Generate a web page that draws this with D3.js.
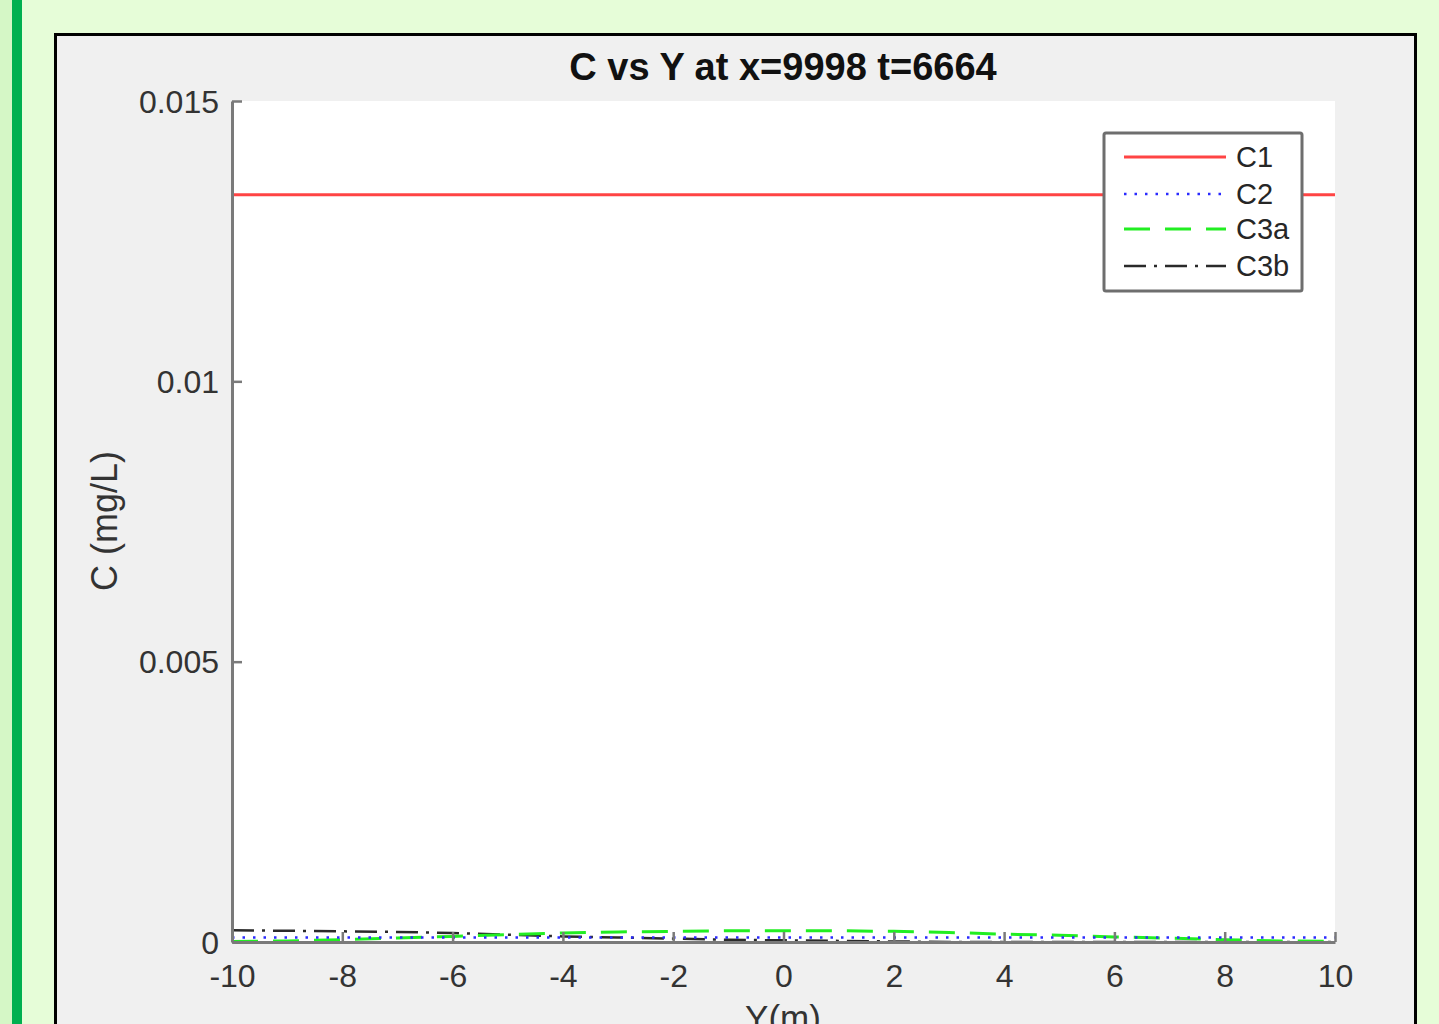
<!DOCTYPE html>
<html>
<head>
<meta charset="utf-8">
<script src="https://cdn.jsdelivr.net/npm/d3@7"></script>
<style>
  html, body { margin: 0; padding: 0; background: #e6fdd8; }
  svg { display: block; }
  text { font-family: "Liberation Sans", Arial, sans-serif; }
</style>
</head>
<body>
<svg id="chart"></svg>
<script>
// Data.
const yPositions = [-10, -9, -8, -7, -6, -5, -4, -3, -2, -1, 0, 1, 2, 3, 4, 5, 6, 7, 8, 9, 10];
const c1 = [0.01333, 0.01333, 0.01333, 0.01333, 0.01333, 0.01333, 0.01333, 0.01333, 0.01333, 0.01333, 0.01333,
  0.01333, 0.01333, 0.01333, 0.01333, 0.01333, 0.01333, 0.01333, 0.01333, 0.01333, 0.01333];
const c2 = [0.00008, 0.00008, 0.00008, 0.00008, 0.00008, 0.00008, 0.00008, 0.00008, 0.00008, 0.00008, 0.00008,
  0.00008, 0.00008, 0.00008, 0.00008, 0.00008, 0.00008, 0.00008, 0.00008, 0.00008, 0.00008];
const c3a = [0.00001, 0.00002, 0.00004, 0.00007, 0.0001, 0.00013, 0.00016, 0.00018, 0.00019, 0.0002, 0.0002,
  0.0002, 0.00019, 0.00017, 0.00014, 0.00012, 0.00009, 0.00007, 0.00004, 0.00002, 0.00001];
const c3b = [0.00021, 0.0002, 0.00019, 0.00018, 0.00016, 0.00013, 0.0001, 0.00008, 0.00006, 0.00004, 0.00003,
  0.00002, 0.00001, 0, 0, 0, 0, 0, 0, 0, 0];
const seriesNames = ["C1", "C2", "C3a", "C3b"];
const xTicks = [-10, -8, -6, -4, -2, 0, 2, 4, 6, 8, 10];
const yTicks = [0, 0.005, 0.01, 0.015];
const yTickLabels = ["0", "0.005", "0.01", "0.015"];

const W = 1439, H = 1024;
const plot = { left: 232, right: 1335, top: 101, bottom: 942 };

const svg = d3.select("#chart").attr("width", W).attr("height", H);

// Page background & decorations.
svg.append("rect").attr("width", W).attr("height", H).attr("fill", "#e6fdd8");
svg.append("rect").attr("x", 0).attr("y", 0).attr("width", 12).attr("height", H).attr("fill", "#d5f7c6");
svg.append("rect").attr("x", 12).attr("y", 0).attr("width", 10).attr("height", H).attr("fill", "#00b050");

// Figure window.
svg.append("rect")
  .attr("x", 55.5).attr("y", 34.5)
  .attr("width", 1360).attr("height", 1100)
  .attr("fill", "#f0f0f0")
  .attr("stroke", "#000")
  .attr("stroke-width", 3);

svg.append("rect")
  .attr("x", plot.left).attr("y", plot.top)
  .attr("width", plot.right - plot.left).attr("height", plot.bottom - plot.top)
  .attr("fill", "#fff");

const x = d3.scaleLinear().domain([-10, 10]).range([plot.left, plot.right]);
const y = d3.scaleLinear().domain([0, 0.015]).range([plot.bottom, plot.top]);

// Series.
const series = [
  { name: seriesNames[0], values: c1, color: "#ff4444", dash: null, width: 3 },
  { name: seriesNames[1], values: c2, color: "#2a2aff", dash: "2.5,8", width: 2.5 },
  { name: seriesNames[2], values: c3a, color: "#22ee22", dash: "26,15", width: 3 },
  { name: seriesNames[3], values: c3b, color: "#2a2a2a", dash: "22,8,3,8", width: 2.5 },
];

const line = d3.line().x((d) => x(d[0])).y((d) => y(d[1]));

svg.append("g")
  .selectAll("path")
  .data(series.slice().reverse())
  .join("path")
  .attr("d", (s) => line(yPositions.map((p, i) => [p, s.values[i]])))
  .attr("fill", "none")
  .attr("stroke", (s) => s.color)
  .attr("stroke-width", (s) => s.width)
  .attr("stroke-dasharray", (s) => s.dash);

// Axes (MATLAB style, ticks inward, no box).
const axisColor = "#7a7a7a";
const xAxis = svg.append("g").attr("transform", `translate(0,${plot.bottom})`)
  .call(d3.axisBottom(x).tickValues(xTicks).tickFormat((d) => String(d))
    .tickSizeInner(-10).tickSizeOuter(0).tickPadding(22));
const yAxis = svg.append("g").attr("transform", `translate(${plot.left},0)`)
  .call(d3.axisLeft(y).tickValues(yTicks).tickFormat((d, i) => yTickLabels[i])
    .tickSizeInner(-10).tickSizeOuter(0).tickPadding(13));

[xAxis, yAxis].forEach((a) => {
  a.select(".domain").attr("stroke", axisColor).attr("stroke-width", 3);
  a.selectAll(".tick line").attr("stroke", axisColor).attr("stroke-width", 2.5);
  a.selectAll(".tick text")
    .attr("fill", "#333")
    .style("font-size", "32px");
});
xAxis.selectAll(".tick text").attr("dy", "0.71em");
yAxis.selectAll(".tick text").attr("dy", "0.35em");

// Title and labels.
svg.append("text")
  .attr("x", 783).attr("y", 80)
  .attr("text-anchor", "middle")
  .attr("fill", "#111")
  .style("font-size", "38px")
  .style("font-weight", "bold")
  .text("C vs Y at x=9998 t=6664");

svg.append("text")
  .attr("x", 783).attr("y", 1030)
  .attr("text-anchor", "middle")
  .attr("fill", "#333")
  .style("font-size", "35px")
  .text("Y(m)");

svg.append("text")
  .attr("transform", `translate(117,521) rotate(-90)`)
  .attr("text-anchor", "middle")
  .attr("fill", "#333")
  .style("font-size", "36px")
  .text("C (mg/L)");

// Legend.
const legend = svg.append("g");
legend.append("rect")
  .attr("x", 1104).attr("y", 133)
  .attr("width", 198).attr("height", 158)
  .attr("rx", 2)
  .attr("fill", "#fff")
  .attr("stroke", "#6e6e6e")
  .attr("stroke-width", 3);

const legendRows = [157, 194, 229, 266];
const rows = legend.selectAll("g.row")
  .data(series)
  .join("g")
  .attr("class", "row")
  .attr("transform", (d, i) => `translate(0,${legendRows[i]})`);

rows.append("line")
  .attr("x1", 1124).attr("x2", 1226)
  .attr("stroke", (d) => d.color)
  .attr("stroke-width", (d) => d.width)
  .attr("stroke-dasharray", (d) => d.dash);

rows.append("text")
  .attr("x", 1236)
  .attr("dy", "0.36em")
  .attr("fill", "#262626")
  .style("font-size", "29px")
  .text((d) => d.name);
</script>
</body>
</html>
